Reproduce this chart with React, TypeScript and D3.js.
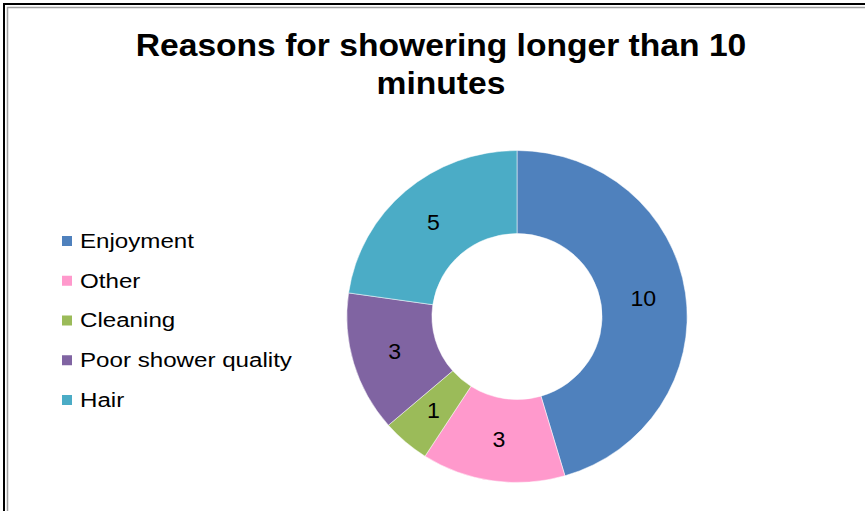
import React from "react";
import * as d3 from "d3";

const categories = ["Enjoyment", "Other", "Cleaning", "Poor shower quality", "Hair"];
const values = [10, 3, 1, 3, 5];
const colors = ["#4F81BD", "#FF99CC", "#9BBB59", "#8064A2", "#4BACC6"];
const titleLines = ["Reasons for showering longer than 10", "minutes"];

const W = 865;
const H = 511;

export default function App() {
  const cx = 517;
  const cy = 316.5;
  const rOuter = 166;
  const rInner = 83;
  const sx = 1.025;

  const pie = d3
    .pie<number>()
    .sort(null)
    .startAngle(0)
    .endAngle(2 * Math.PI)
    .value((d) => d);
  const arcs = pie(values);
  const arc = d3.arc<d3.PieArcDatum<number>>().innerRadius(rInner).outerRadius(rOuter);

  const legendY = d3.scalePoint<string>().domain(categories).range([241, 400]);

  return (
    <svg
      width={W}
      height={H}
      style={{ position: "absolute", left: 0, top: 0, display: "block" }}
      fontFamily="'Liberation Sans', Arial, sans-serif"
    >
      <rect x={0} y={0} width={W} height={H} fill="#ffffff" />
      <rect x={4} y={4} width={W + 20} height={H + 20} fill="none" stroke="#000000" strokeWidth={2} />
      <rect x={7.5} y={7.5} width={W + 20} height={H + 20} fill="none" stroke="#a0a0a0" strokeWidth={1.5} />

      {titleLines.map((t, i) => (
        <text
          key={i}
          transform={`translate(441,${56 + i * 38}) scale(1.067,1)`}
          textAnchor="middle"
          fontSize={31.5}
          fontWeight="bold"
          fill="#000000"
        >
          {t}
        </text>
      ))}

      <g transform={`translate(${cx},${cy}) scale(${sx},1)`}>
        {arcs.map((a, i) => (
          <path key={i} d={arc(a) || ""} fill={colors[i]} stroke="#ffffff" strokeWidth={0.5} />
        ))}
      </g>
      {arcs.map((a, i) => {
        const [x, y] = arc.centroid(a);
        return (
          <text
            key={i}
            transform={`translate(${cx + x * sx},${cy + y}) scale(1.05,1)`}
            textAnchor="middle"
            dominantBaseline="central"
            fontSize={22}
            fill="#000000"
          >
            {values[i]}
          </text>
        );
      })}

      {categories.map((c, i) => {
        const y = legendY(c) as number;
        return (
          <g key={c}>
            <rect x={62} y={y - 5} width={10} height={10} fill={colors[i]} />
            <text
              transform={`translate(80,${y}) scale(1.15,1)`}
              dominantBaseline="central"
              fontSize={21}
              fill="#000000"
            >
              {c}
            </text>
          </g>
        );
      })}
    </svg>
  );
}
